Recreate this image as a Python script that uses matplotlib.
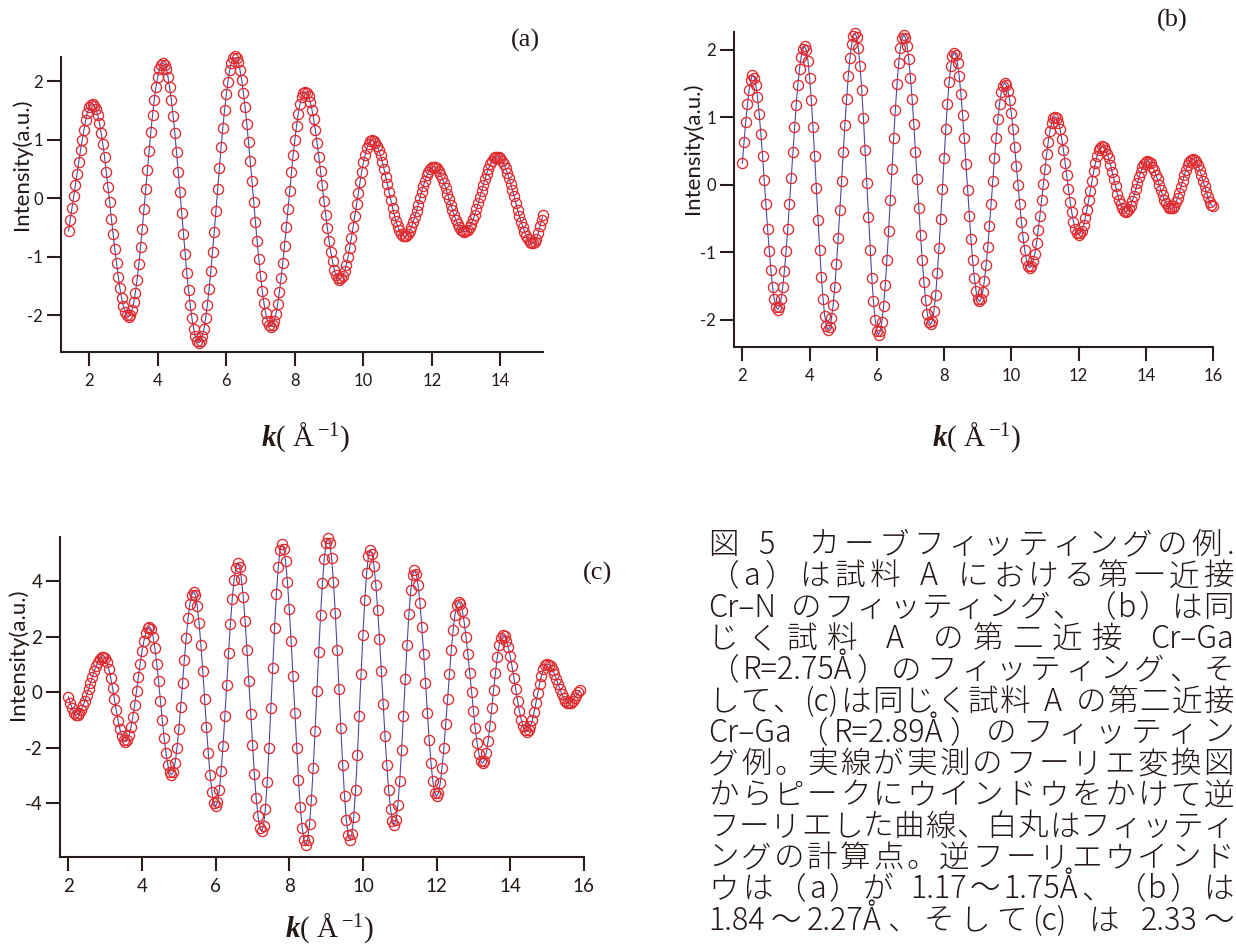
import re
import numpy as np
import matplotlib
matplotlib.use("Agg")
import matplotlib.pyplot as plt

W, H = 1236, 946

plt.rcParams['font.family'] = 'Lato'
plt.rcParams['axes.unicode_minus'] = False
plt.rcParams['mathtext.fontset'] = 'custom'
plt.rcParams['mathtext.rm'] = 'Liberation Serif'
plt.rcParams['mathtext.it'] = 'Liberation Serif:italic'
plt.rcParams['mathtext.bf'] = 'Liberation Serif:italic:bold'

# EXAFS values, k step 0.05 1/A
k_step = 0.05

k_a_start = 1.40
chi_a = [
    -0.56, -0.37, -0.17, 0.03, 0.23, 0.42, 0.62, 0.82, 1.00, 1.17, 1.33, 1.46, 1.55, 1.59, 1.60,
    1.58, 1.52, 1.42, 1.29, 1.12, 0.92, 0.70, 0.45, 0.19, -0.07, -0.35, -0.61, -0.87, -1.11, -1.34, -1.54, -1.71, -1.84, -1.94, -2.00, -2.02,
    -1.99, -1.91, -1.78, -1.61, -1.39, -1.13, -0.84, -0.52, -0.19, 0.15, 0.48, 0.81, 1.13, 1.42, 1.68, 1.90, 2.07, 2.20, 2.28, 2.31,
    2.28, 2.21, 2.07, 1.89, 1.67, 1.41, 1.12, 0.79, 0.45, 0.10, -0.26, -0.61, -0.95, -1.28, -1.57, -1.83, -2.05, -2.23, -2.36, -2.44, -2.47,
    -2.44, -2.36, -2.23, -2.05, -1.82, -1.55, -1.25, -0.92, -0.57, -0.21, 0.16, 0.52, 0.87, 1.20, 1.50, 1.77, 1.99, 2.18, 2.31, 2.39, 2.42,
    2.39, 2.32, 2.19, 2.02, 1.80, 1.55, 1.27, 0.96, 0.63, 0.29, -0.06, -0.40, -0.73, -1.04, -1.32, -1.58, -1.79, -1.96, -2.09, -2.17, -2.19,
    -2.17, -2.09, -1.97, -1.81, -1.60, -1.36, -1.10, -0.81, -0.50, -0.19, 0.13, 0.44, 0.73, 0.99, 1.23, 1.44, 1.60, 1.72, 1.80, 1.82,
    1.80, 1.74, 1.65, 1.51, 1.35, 1.16, 0.94, 0.71, 0.47, 0.22, -0.04, -0.28, -0.51, -0.73, -0.92, -1.08, -1.22, -1.31, -1.37, -1.39,
    -1.37, -1.33, -1.25, -1.14, -1.01, -0.85, -0.68, -0.49, -0.30, -0.10, 0.09, 0.28, 0.45, 0.61, 0.74, 0.85, 0.93, 0.97, 0.99,
    0.98, 0.95, 0.89, 0.82, 0.73, 0.62, 0.50, 0.37, 0.24, 0.10, -0.03, -0.16, -0.28, -0.39, -0.48, -0.55, -0.61, -0.64, -0.65,
    -0.64, -0.61, -0.56, -0.50, -0.41, -0.32, -0.22, -0.11, 0.00, 0.11, 0.21, 0.30, 0.39, 0.45, 0.50, 0.53, 0.54,
    0.53, 0.51, 0.47, 0.41, 0.34, 0.26, 0.18, 0.08, -0.02, -0.11, -0.20, -0.29, -0.37, -0.44, -0.50, -0.54, -0.56, -0.57,
    -0.56, -0.54, -0.49, -0.44, -0.36, -0.28, -0.19, -0.09, 0.02, 0.12, 0.23, 0.33, 0.42, 0.50, 0.58, 0.63, 0.68, 0.70, 0.71,
    0.70, 0.68, 0.64, 0.58, 0.51, 0.43, 0.34, 0.24, 0.14, 0.03, -0.09, -0.20, -0.30, -0.40, -0.49, -0.57, -0.64, -0.70, -0.74, -0.76, -0.77,
    -0.75, -0.70, -0.60, -0.48, -0.37, -0.28]

k_b_start = 2.00
chi_b = [
    0.32, 0.64, 0.93, 1.19, 1.40, 1.55, 1.63,
    1.59, 1.48, 1.30, 1.05, 0.76, 0.43, 0.07, -0.29, -0.65, -0.98, -1.27, -1.52, -1.70, -1.81, -1.85,
    -1.81, -1.70, -1.52, -1.28, -0.98, -0.65, -0.28, 0.10, 0.48, 0.85, 1.18, 1.48, 1.72, 1.90, 2.01, 2.05,
    2.00, 1.84, 1.59, 1.26, 0.86, 0.42, -0.05, -0.52, -0.96, -1.36, -1.69, -1.94, -2.10, -2.15,
    -2.11, -1.98, -1.78, -1.51, -1.17, -0.79, -0.38, 0.05, 0.48, 0.89, 1.27, 1.61, 1.88, 2.08, 2.21, 2.25,
    2.19, 2.03, 1.76, 1.41, 0.99, 0.51, 0.02, -0.48, -0.96, -1.38, -1.73, -2.00, -2.16, -2.22,
    -2.17, -2.03, -1.80, -1.49, -1.11, -0.69, -0.23, 0.23, 0.69, 1.11, 1.49, 1.80, 2.03, 2.17, 2.22,
    2.18, 2.06, 1.86, 1.59, 1.27, 0.90, 0.49, 0.08, -0.34, -0.75, -1.12, -1.44, -1.71, -1.91, -2.03, -2.07,
    -2.02, -1.87, -1.63, -1.31, -0.93, -0.50, -0.06, 0.39, 0.82, 1.20, 1.52, 1.76, 1.91, 1.96,
    1.92, 1.80, 1.61, 1.35, 1.04, 0.69, 0.31, -0.08, -0.46, -0.81, -1.12, -1.38, -1.57, -1.69, -1.73,
    -1.69, -1.59, -1.42, -1.19, -0.92, -0.61, -0.28, 0.06, 0.39, 0.70, 0.97, 1.20, 1.37, 1.47, 1.51,
    1.48, 1.39, 1.25, 1.06, 0.83, 0.56, 0.28, 0.00, -0.28, -0.55, -0.78, -0.97, -1.11, -1.20, -1.23,
    -1.21, -1.13, -1.02, -0.86, -0.67, -0.46, -0.23, 0.01, 0.24, 0.45, 0.64, 0.80, 0.91, 0.99, 1.01,
    0.99, 0.92, 0.82, 0.68, 0.52, 0.33, 0.14, -0.06, -0.25, -0.41, -0.55, -0.65, -0.72, -0.74,
    -0.72, -0.68, -0.60, -0.49, -0.37, -0.23, -0.09, 0.06, 0.20, 0.32, 0.43, 0.51, 0.55, 0.57,
    0.56, 0.52, 0.46, 0.39, 0.30, 0.19, 0.09, -0.02, -0.13, -0.22, -0.29, -0.35, -0.39, -0.40,
    -0.39, -0.36, -0.31, -0.24, -0.16, -0.07, 0.02, 0.11, 0.19, 0.26, 0.31, 0.34, 0.35,
    0.34, 0.32, 0.27, 0.22, 0.15, 0.08, 0.00, -0.08, -0.15, -0.22, -0.27, -0.32, -0.34, -0.35,
    -0.34, -0.31, -0.26, -0.19, -0.12, -0.03, 0.06, 0.15, 0.22, 0.29, 0.34, 0.37, 0.38,
    0.37, 0.34, 0.29, 0.22, 0.15, 0.06, -0.02, -0.11, -0.18, -0.25, -0.30, -0.32]

k_c_start = 2.00
chi_c = [
    -0.16, -0.38, -0.58, -0.74, -0.82,
    -0.80, -0.73, -0.62, -0.47, -0.30, -0.09, 0.12, 0.34, 0.55, 0.76, 0.93, 1.08, 1.19, 1.26, 1.28,
    1.23, 1.08, 0.83, 0.52, 0.15, -0.25, -0.65, -1.02, -1.33, -1.58, -1.73, -1.78,
    -1.72, -1.54, -1.26, -0.89, -0.45, 0.04, 0.54, 1.03, 1.47, 1.84, 2.12, 2.30, 2.36,
    2.27, 2.00, 1.58, 1.03, 0.39, -0.31, -1.00, -1.64, -2.19, -2.61, -2.88, -2.97,
    -2.86, -2.53, -2.00, -1.32, -0.53, 0.33, 1.18, 1.97, 2.66, 3.18, 3.51, 3.62,
    3.49, 3.10, 2.49, 1.69, 0.76, -0.25, -1.25, -2.18, -2.98, -3.59, -3.98, -4.11,
    -3.96, -3.52, -2.83, -1.92, -0.87, 0.27, 1.40, 2.45, 3.36, 4.05, 4.49, 4.64,
    4.50, 4.09, 3.43, 2.56, 1.53, 0.40, -0.77, -1.90, -2.93, -3.80, -4.46, -4.87, -5.01,
    -4.80, -4.19, -3.23, -1.99, -0.57, 0.89, 2.31, 3.55, 4.51, 5.12, 5.33,
    5.17, 4.71, 3.97, 2.99, 1.84, 0.58, -0.74, -2.00, -3.15, -4.13, -4.87, -5.33, -5.49,
    -5.30, -4.75, -3.87, -2.73, -1.40, 0.03, 1.46, 2.79, 3.93, 4.81, 5.36, 5.55,
    5.37, 4.82, 3.96, 2.84, 1.53, 0.12, -1.29, -2.60, -3.72, -4.58, -5.13, -5.31,
    -5.10, -4.48, -3.51, -2.26, -0.84, 0.65, 2.07, 3.32, 4.29, 4.91, 5.12,
    4.98, 4.55, 3.88, 2.98, 1.93, 0.77, -0.42, -1.58, -2.63, -3.53, -4.20, -4.63, -4.77,
    -4.58, -4.04, -3.19, -2.09, -0.84, 0.47, 1.72, 2.82, 3.67, 4.21, 4.40,
    4.26, 3.85, 3.21, 2.36, 1.38, 0.33, -0.73, -1.71, -2.56, -3.20, -3.61, -3.75,
    -3.63, -3.28, -2.72, -2.00, -1.15, -0.25, 0.66, 1.51, 2.23, 2.79, 3.14, 3.26,
    3.18, 2.93, 2.53, 2.00, 1.39, 0.71, 0.00, -0.68, -1.30, -1.82, -2.22, -2.47, -2.55,
    -2.46, -2.18, -1.76, -1.20, -0.57, 0.08, 0.71, 1.27, 1.69, 1.97, 2.06,
    2.01, 1.86, 1.62, 1.31, 0.94, 0.53, 0.11, -0.30, -0.67, -0.98, -1.22, -1.37, -1.42,
    -1.37, -1.23, -1.00, -0.71, -0.37, -0.03, 0.31, 0.60, 0.83, 0.97, 1.02,
    1.00, 0.93, 0.81, 0.67, 0.49, 0.31, 0.13, -0.05, -0.19, -0.30, -0.38, -0.40,
    -0.37, -0.30, -0.20, -0.10, 0.00, 0.08]

xticks_a = [2, 4, 6, 8, 10, 12, 14]
yticks_a = [-2, -1, 0, 1, 2]
xticks_b = [2, 4, 6, 8, 10, 12, 14, 16]
yticks_b = [-2, -1, 0, 1, 2]
xticks_c = [2, 4, 6, 8, 10, 12, 14, 16]
yticks_c = [-4, -2, 0, 2, 4]

caption_lines = [
    "図 5  カーブフィッティングの例.",
    "（a）は試料 A における第一近接",
    "Cr–N のフィッティング、（b）は同",
    "じく試料 A の第二近接 Cr–Ga",
    "（R=2.75Å）のフィッティング、そ",
    "して、(c)は同じく試料 A の第二近接",
    "Cr–Ga（R=2.89Å）のフィッティン",
    "グ例。実線が実測のフーリエ変換図",
    "からピークにウインドウをかけて逆",
    "フーリエした曲線、白丸はフィッティ",
    "ングの計算点。逆フーリエウインド",
    "ウは（a）が 1.17～1.75Å、（b）は",
    "1.84～2.27Å、そして(c) は 2.33～",
]

ink = '#2a1c1a'
fig = plt.figure(figsize=(W / 100, H / 100), dpi=100)


def px_box(x0, y0, x1, y1):
    return [x0 / W, 1 - y1 / H, (x1 - x0) / W, (y1 - y0) / H]


def panel(box, k0, chi, xlim, ylim, xticks, yticks, fs):
    ax = fig.add_axes(px_box(*box))
    k = np.round(k0 + k_step * np.arange(len(chi)), 2)
    ax.plot(k, chi, color='#4a4aa6', lw=0.8, zorder=2)
    ax.plot(k, chi, 'o', mfc='none', mec='#e02a2e', ms=7.3, mew=0.95,
            zorder=3, clip_on=False)
    ax.set_xlim(*xlim)
    ax.set_ylim(*ylim)
    ax.set_xticks(xticks)
    ax.set_yticks(yticks)
    for s in ['top', 'right']:
        ax.spines[s].set_visible(False)
    for s in ['left', 'bottom']:
        ax.spines[s].set_color(ink)
        ax.spines[s].set_linewidth(1.5)
    ax.tick_params(direction='out', length=10, width=1.5, color=ink,
                   labelsize=fs, labelcolor='#231815')
    ax.tick_params(axis='x', pad=5)
    ax.tick_params(axis='y', pad=3)
    return ax


ax_a = panel((61, 57, 543, 351.7), k_a_start, chi_a, (1.18, 15.24), (-2.62, 2.41),
             xticks_a, yticks_a, 12)
ax_b = panel((734.3, 32.3, 1213, 346.7), k_b_start, chi_b, (1.76, 16.0), (-2.40, 2.26),
             xticks_b, yticks_b, 12)
ax_c = panel((60.3, 537.3, 583.8, 857.3), k_c_start, chi_c, (1.78, 16.0), (-5.94, 5.58),
             xticks_c, yticks_c, 13.5)


def ftext(x, y, s, **kw):
    return fig.text(x / W, 1 - y / H, s, **kw)


# axis labels placed like the scanned figure
for x, y in [(22, 164), (693, 148), (17.5, 654)]:
    ftext(x, y, 'Intensity(a.u.)', rotation=90, ha='center', va='center',
          fontsize=16, color='#231815')
for x, y in [(306, 437), (977, 437), (330, 928)]:
    ftext(x, y, r'$\mathbf{k}$( Å$\,^{-1}$)', ha='center', va='center',
          fontsize=21, family='Liberation Serif', color='#231815')
for x, y, s in [(525, 40, '(a)'), (1172, 20, '(b)'), (597, 573, '(c)')]:
    ftext(x, y, s, ha='center', va='center', fontsize=19,
          family='Liberation Serif', color='#231815')

# caption, justified line by line
cap_fs = 22
cap_family = ['Noto Sans CJK JP', 'DejaVu Sans']
renderer = fig.canvas.get_renderer()


def justify(line, y, x0=708, x1=1234):
    tokens = re.findall(r'[A-Za-z0-9.=Å–()]+| |.', line)
    items = []
    for tok in tokens:
        if tok == ' ':
            items.append((None, cap_fs * 100 / 72 * 0.35))
            continue
        t = ftext(x0, y, tok, ha='left', va='center', fontsize=cap_fs,
                  family=cap_family, fontweight='light', color='#231815')
        items.append((t, t.get_window_extent(renderer).width))
    total = sum(w for _, w in items)
    gap = (x1 - x0 - total) / max(len(items) - 1, 1)
    x = x0
    for t, w in items:
        if t is not None:
            t.set_x(x / W)
        x += w + gap


for i, line in enumerate(caption_lines):
    justify(line, 545 + i * 31.3)

fig.savefig('out.png', dpi=100)
